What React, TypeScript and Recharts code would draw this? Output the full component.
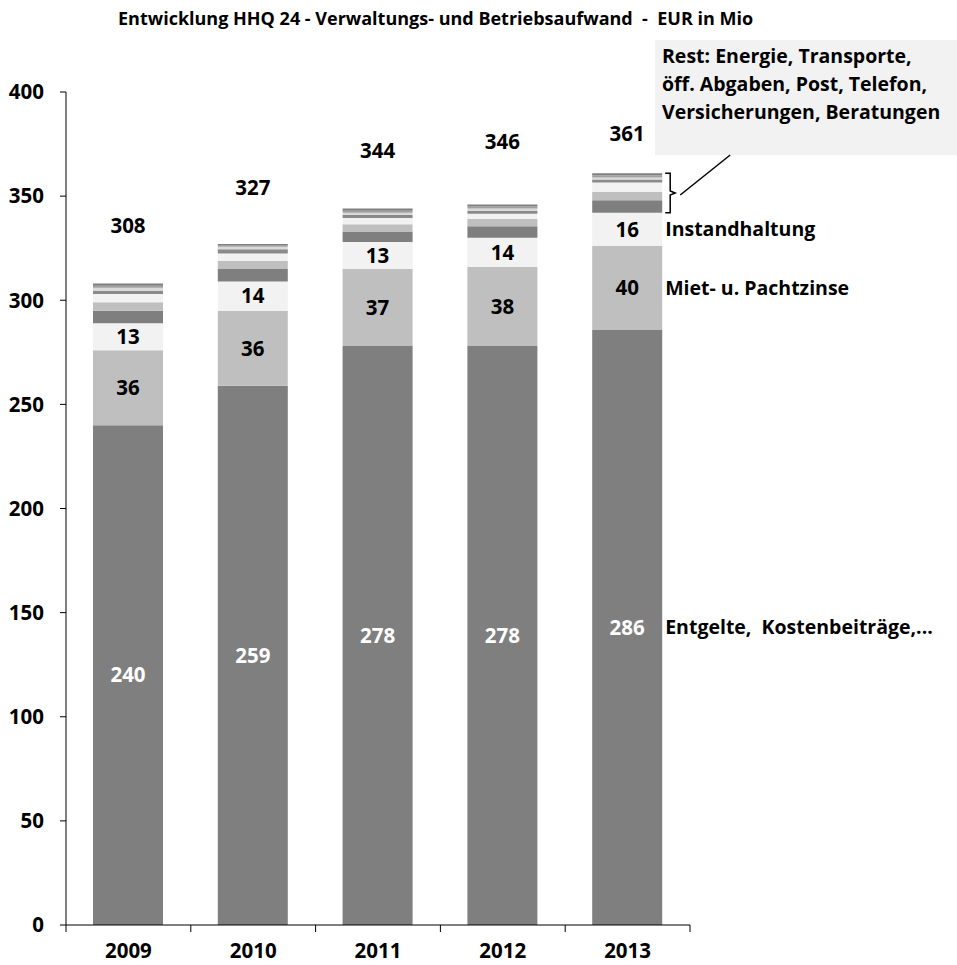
import React from 'react';
import { BarChart, Bar, XAxis, YAxis, LabelList } from 'recharts';

// Jahre und Werte (EUR in Mio)
const years = ['2009', '2010', '2011', '2012', '2013'];
const entgelte = [240, 259, 278, 278, 286];
const miete = [36, 36, 37, 38, 40];
const instandhaltung = [13, 14, 13, 14, 16];
// Rest: Energie, Transporte, Abgaben, Post, Telefon, Versicherungen, Beratungen
const rest1 = [6, 6, 5, 5.5, 6];
const rest2 = [4, 4, 3.5, 3.5, 4];
const rest3 = [4, 3.5, 3, 2.5, 4.5];
const rest4 = [1.5, 2, 1.5, 1.5, 1.5];
const rest5 = [1.5, 1.2, 1, 1, 1];
const rest6 = [1, 0.8, 1, 1, 1];
const rest7 = [1, 0.5, 1, 1, 1];
const totals = [308, 327, 344, 346, 361];
const yTicks = [0, 50, 100, 150, 200, 250, 300, 350, 400];

const restKeys = ['r1', 'r2', 'r3', 'r4', 'r5', 'r6', 'r7'];
const restSeries = [rest1, rest2, rest3, rest4, rest5, rest6, rest7];
const restColors = ['#7f7f7f', '#bfbfbf', '#f2f2f2', '#8a8a8a', '#d9d9d9', '#a0a0a0', '#7f7f7f'];

const data = years.map((year, i) => {
  const row: Record<string, number | string> = {
    year,
    entgelte: entgelte[i],
    miete: miete[i],
    instand: instandhaltung[i],
    total: totals[i],
  };
  restKeys.forEach((k, j) => { row[k] = restSeries[j][i]; });
  return row;
});

const FONT = '"Open Sans", Lato, sans-serif';
const NUM = 20.5; // Schriftgröße der Zahlen
const TXT = 19.5; // Schriftgröße der Beschriftungen
const W = 957;
const H = 965;
const MARGIN = { top: 92, right: 267, left: 10, bottom: 0 };
const BAND = (W - MARGIN.left - 56 - MARGIN.right) / years.length;

// Abstand der Summen über dem Balken (wie im Original verschoben)
const totalLift = [58, 56, 58, 63, 40];

const XTick = (props: any) => {
  const { x, y, payload, index } = props;
  const left = x - BAND / 2;
  return (
    <g>
      <line x1={left} y1={y} x2={left} y2={y + 7} stroke="#000" />
      {index === years.length - 1 && (
        <line x1={x + BAND / 2} y1={y} x2={x + BAND / 2} y2={y + 7} stroke="#000" />
      )}
      <text x={x} y={y + 33} textAnchor="middle" fontSize={NUM} fontWeight="bold" fill="#000" fontFamily={FONT}>
        {payload.value}
      </text>
    </g>
  );
};

const segmentLabel = (color: string, sideText?: string) => (props: any) => {
  const { x, y, width, height, value, index } = props;
  const cy = y + height / 2;
  return (
    <g>
      <text x={x + width / 2} y={cy} dy="0.36em" textAnchor="middle" fontSize={NUM} fontWeight="bold" fill={color} fontFamily={FONT}>
        {value}
      </text>
      {sideText && index === years.length - 1 && (
        <text x={x + width + 3} y={cy} dy="0.36em" textAnchor="start" fontSize={TXT} fontWeight="bold" fill="#000" fontFamily={FONT} style={{ whiteSpace: 'pre' }}>
          {sideText}
        </text>
      )}
    </g>
  );
};

const TopLabel = (props: any) => {
  const { x, y, width, height, index } = props;
  const cx = x + width / 2;
  const last = index === years.length - 1;
  let bracket = null;
  if (last) {
    // Höhe des Rest-Blocks aus der Skala des obersten Segments ableiten
    const pxPerUnit = height / rest7[index];
    const restSum = restSeries.reduce((s, arr) => s + arr[index], 0);
    const top = y;
    const bottom = y + restSum * pxPerUnit;
    const bx = x + width + 8;
    const mid = (top + bottom) / 2;
    bracket = (
      <g fill="none" stroke="#000" strokeWidth={1.5}>
        <path d={`M ${bx - 5} ${top} L ${bx} ${top} L ${bx} ${mid - 2} L ${bx + 5} ${mid} L ${bx} ${mid + 2} L ${bx} ${bottom} L ${bx - 5} ${bottom}`} />
        <line x1={bx + 10} y1={mid + 2} x2={bx + 60} y2={mid - 38} strokeWidth={1.5} />
      </g>
    );
  }
  return (
    <g>
      <text x={cx} y={y - totalLift[index]} dy="0.36em" textAnchor="middle" fontSize={NUM} fontWeight="bold" fill="#000" fontFamily={FONT}>
        {totals[index]}
      </text>
      {bracket}
    </g>
  );
};

const App: React.FC = () => {
  return (
    <div style={{ position: 'absolute', left: 0, top: 0, width: W, height: H, background: '#fff', fontFamily: FONT }}>
      <div style={{ position: 'absolute', left: 118, top: 5, fontSize: 18, fontWeight: 'bold', whiteSpace: 'pre', color: '#000', lineHeight: '26px' }}>
        {'Entwicklung HHQ 24 - Verwaltungs- und Betriebsaufwand  -  EUR in Mio'}
      </div>
      <div style={{ position: 'absolute', left: 655, top: 40, width: 302, height: 115, background: '#f2f2f2' }} />
      <div style={{ position: 'absolute', left: 662, top: 42, fontSize: TXT, fontWeight: 'bold', lineHeight: '28px', whiteSpace: 'pre', color: '#000' }}>
        {'Rest: Energie, Transporte,\nöff. Abgaben, Post, Telefon,\nVersicherungen, Beratungen'}
      </div>
      <div style={{ position: 'absolute', left: 0, top: 0 }}>
        <BarChart width={W} height={H} data={data} margin={MARGIN} barSize={70}>
          <XAxis
            dataKey="year"
            height={40}
            stroke="#000"
            tickLine={false}
            tickSize={0}
            tickMargin={0}
            tick={<XTick />}
          />
          <YAxis
            width={56}
            domain={[0, 400]}
            ticks={yTicks}
            stroke="#000"
            tickSize={6}
            tickMargin={16}
            tick={{ fontSize: NUM, fontWeight: 'bold', fill: '#000', fontFamily: FONT }}
          />
          <Bar dataKey="entgelte" stackId="a" fill="#7f7f7f" isAnimationActive={false}>
            <LabelList dataKey="entgelte" content={segmentLabel('#fff', 'Entgelte,  Kostenbeiträge,...')} />
          </Bar>
          <Bar dataKey="miete" stackId="a" fill="#bfbfbf" isAnimationActive={false}>
            <LabelList dataKey="miete" content={segmentLabel('#000', 'Miet- u. Pachtzinse')} />
          </Bar>
          <Bar dataKey="instand" stackId="a" fill="#f2f2f2" isAnimationActive={false}>
            <LabelList dataKey="instand" content={segmentLabel('#000', 'Instandhaltung')} />
          </Bar>
          {restKeys.map((k, j) => (
            <Bar key={k} dataKey={k} stackId="a" fill={restColors[j]} isAnimationActive={false}>
              {j === restKeys.length - 1 && <LabelList dataKey={k} content={<TopLabel />} />}
            </Bar>
          ))}
        </BarChart>
      </div>
    </div>
  );
};

export default App;
